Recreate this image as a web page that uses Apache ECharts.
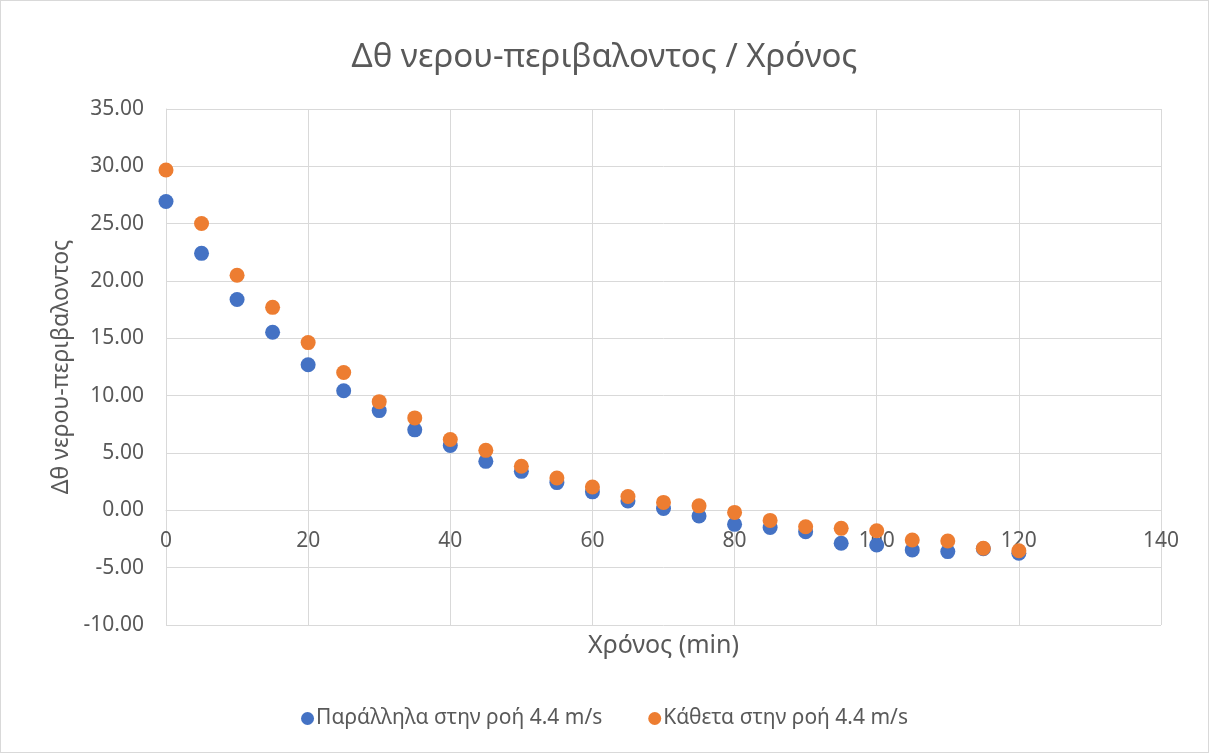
<!DOCTYPE html>
<html>
<head>
<meta charset="utf-8">
<script src="https://cdn.jsdelivr.net/npm/echarts@6/dist/echarts.min.js"></script>
<style>
  html, body { margin: 0; padding: 0; background: #fff; }
  #chart { width: 1209px; height: 753px; box-sizing: border-box; border: 1px solid #d9d9d9; }
</style>
</head>
<body>
<div id="chart"></div>
<script>
// Time in minutes
const times = [0, 5, 10, 15, 20, 25, 30, 35, 40, 45, 50, 55, 60, 65, 70, 75, 80, 85, 90, 95, 100, 105, 110, 115, 120];
// Water minus ambient temperature difference
const parallel = [26.93, 22.41, 18.39, 15.53, 12.69, 10.43, 8.70, 7.02, 5.66, 4.27, 3.40, 2.42, 1.61, 0.82, 0.16, -0.50, -1.22, -1.50, -1.87, -2.87, -3.02, -3.45, -3.60, -3.35, -3.74];
const perpendicular = [29.68, 25.02, 20.50, 17.70, 14.63, 12.02, 9.48, 8.06, 6.18, 5.23, 3.84, 2.82, 2.04, 1.21, 0.69, 0.39, -0.18, -0.88, -1.43, -1.57, -1.78, -2.59, -2.67, -3.31, -3.52];

const seriesNames = ['Παράλληλα στην ροή 4.4 m/s', 'Κάθετα στην ροή 4.4 m/s'];
const titleText = 'Δθ νερου-περιβαλοντος / Χρόνος';
const xName = 'Χρόνος (min)';
const yName = 'Δθ νερου-περιβαλοντος';

const pairs = (ys) => times.map((t, i) => [t, ys[i]]);
const font = '"Noto Sans", "Open Sans", sans-serif';
const grey = '#595959';
const gridGrey = '#d9d9d9';

// Plot box and y range; the x axis crosses the y axis at zero
const plotTop = 108, plotBottom = 127, chartHeight = 753;
const yMin = -10, yMax = 35;
const plotHeight = chartHeight - plotTop - plotBottom;
const zeroLift = plotHeight * (0 - yMin) / (yMax - yMin);

const chart = echarts.init(document.getElementById('chart'));
chart.setOption({
  animation: false,
  textStyle: { fontFamily: font },
  title: {
    text: titleText,
    left: 'center',
    top: 35,
    textStyle: { fontSize: 33, fontWeight: 'normal', color: grey, fontFamily: font }
  },
  grid: { left: 165, right: 47, top: plotTop, bottom: plotBottom, containLabel: false, outerBoundsMode: 'none' },
  legend: {
    bottom: 18,
    left: 'center',
    itemGap: 46,
    itemWidth: 13,
    itemHeight: 13,
    icon: 'circle',
    textStyle: { fontSize: 21, color: grey, fontFamily: font, padding: [0, 0, 0, -3] },
    data: seriesNames
  },
  xAxis: {
    type: 'value',
    min: 0,
    max: 140,
    interval: 20,
    offset: -zeroLift,
    name: xName,
    nameLocation: 'middle',
    nameGap: 123,
    nameTextStyle: { fontSize: 25, color: grey },
    axisLine: { show: true, onZero: false, lineStyle: { color: gridGrey } },
    axisTick: { show: false },
    axisLabel: { fontSize: 21, color: grey, margin: 21 },
    splitLine: { lineStyle: { color: gridGrey, width: 1 } }
  },
  yAxis: {
    type: 'value',
    min: yMin,
    max: yMax,
    interval: 5,
    name: yName,
    nameLocation: 'middle',
    nameGap: 92,
    nameTextStyle: { fontSize: 23, color: grey },
    axisLine: { show: true, onZero: false, lineStyle: { color: gridGrey } },
    axisTick: { show: false },
    axisLabel: { fontSize: 21, color: grey, margin: 22, formatter: v => v.toFixed(2) },
    splitLine: { lineStyle: { color: gridGrey, width: 1 } }
  },
  series: [
    {
      name: seriesNames[0],
      type: 'scatter',
      symbolSize: 15,
      itemStyle: { color: '#4472C4', opacity: 1 },
      data: pairs(parallel)
    },
    {
      name: seriesNames[1],
      type: 'scatter',
      symbolSize: 15,
      itemStyle: { color: '#ED7D31', opacity: 1 },
      data: pairs(perpendicular)
    }
  ]
});
</script>
</body>
</html>
